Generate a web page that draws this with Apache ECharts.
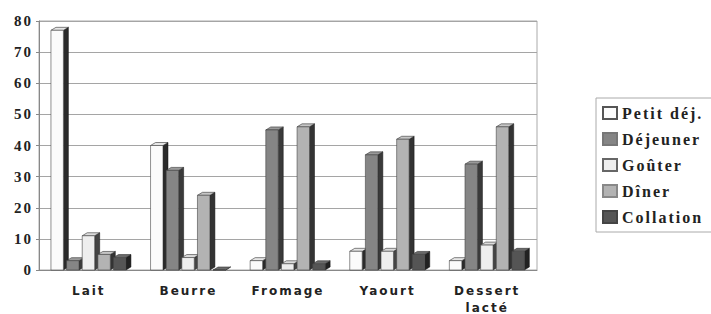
<!DOCTYPE html>
<html>
<head>
<meta charset="utf-8">
<script src="https://cdn.jsdelivr.net/npm/echarts@6/dist/echarts.min.js"></script>
<style>
  html, body { margin: 0; padding: 0; background: #fff; }
  #main { width: 711px; height: 314px; }
  /* the original labels are printed widely spaced */
  #main text { letter-spacing: 2px; }
</style>
</head>
<body>
<div id="main"></div>
<script>
// data
let categories = ['Lait', 'Beurre', 'Fromage', 'Yaourt', 'Dessert\nlacté'];
let meals = ['Petit déj.', 'Déjeuner', 'Goûter', 'Dîner', 'Collation'];
let petitDej = [77, 40, 3, 6, 3];
let dejeuner = [3, 32, 45, 37, 34];
let gouter = [11, 4, 2, 6, 8];
let diner = [5, 24, 46, 42, 46];
let collation = [4, 0, 2, 5, 6];
let yTicks = [0, 10, 20, 30, 40, 50, 60, 70, 80];

let allValues = [petitDej, dejeuner, gouter, diner, collation];
let fronts = ['#fbfbfb', '#858585', '#eeeeee', '#b3b3b3', '#555555'];
let caps = ['#e6e6e6', '#9a9a9a', '#dcdcdc', '#c6c6c6', '#6a6a6a'];
let sides = ['#2a2a2a', '#3a3a3a', '#444444', '#333333', '#222222'];
let iconBorders = ['#555', '#777', '#666', '#888', '#444'];

function box3d(si) {
    return function (params, api) {
        let ci = api.value(0);
        let v = api.value(1);
        let base = api.coord([ci, 0]);
        let top = api.coord([ci, v]);
        let band = api.size([1, 0])[0];
        let pitch = band * 0.157;
        let w = band * 0.125;
        let d = 5, h = 3;
        let x = base[0] - band * 0.38 + si * pitch;
        let y0 = base[1], y1 = top[1];
        return {
            type: 'group',
            children: [
                {
                    type: 'polygon',
                    shape: { points: [[x + w, y1], [x + w + d, y1 - h], [x + w + d, y0 - h], [x + w, y0]] },
                    style: { fill: sides[si], stroke: '#111', lineWidth: 0.5 }
                },
                {
                    type: 'polygon',
                    shape: { points: [[x, y1], [x + w, y1], [x + w + d, y1 - h], [x + d, y1 - h]] },
                    style: { fill: caps[si], stroke: '#333', lineWidth: 0.6 }
                },
                {
                    type: 'rect',
                    shape: { x: x, y: y1, width: w, height: y0 - y1 },
                    style: { fill: fronts[si], stroke: '#444', lineWidth: 0.6 }
                }
            ]
        };
    };
}

let series = meals.map(function (name, si) {
    return {
        name: name,
        type: 'custom',
        renderItem: box3d(si),
        itemStyle: { color: fronts[si], borderColor: iconBorders[si], borderWidth: 1 },
        encode: { x: 0, y: 1 },
        data: allValues[si].map(function (v, ci) { return [ci, v]; })
    };
});

let chart = echarts.init(document.getElementById('main'), null, { renderer: 'svg' });
chart.setOption({
    backgroundColor: '#fff',
    animation: false,
    grid: {
        left: 39, right: 174, top: 21, bottom: 44,
        outerBoundsMode: 'none',
        show: true, borderColor: '#aaa', borderWidth: 1
    },
    legend: {
        orient: 'vertical',
        left: 596, top: 98,
        data: meals,
        icon: 'rect',
        itemWidth: 14, itemHeight: 12, itemGap: 10, itemTextGap: 7,
        padding: [7, 40, 7, 6],
        borderColor: '#aaa', borderWidth: 1,
        textStyle: { fontFamily: 'Liberation Serif', fontWeight: 'bold', fontSize: 16, lineHeight: 16, color: '#222' }
    },
    xAxis: {
        type: 'category',
        data: categories,
        axisTick: { show: false },
        axisLine: { lineStyle: { color: '#888' } },
        axisLabel: {
            margin: 12, fontFamily: 'DejaVu Sans', fontWeight: 'bold', fontSize: 12,
            color: '#222', lineHeight: 17
        }
    },
    yAxis: {
        type: 'value',
        min: yTicks[0], max: yTicks[yTicks.length - 1], interval: 10,
        axisLine: { show: true, lineStyle: { color: '#888' } },
        axisTick: { show: true, length: 3, lineStyle: { color: '#888' } },
        splitLine: { lineStyle: { color: '#a5a5a5' } },
        axisLabel: { margin: 6, fontFamily: 'Liberation Serif', fontWeight: 'bold', fontSize: 15, color: '#222' }
    },
    series: series
});
</script>
</body>
</html>
